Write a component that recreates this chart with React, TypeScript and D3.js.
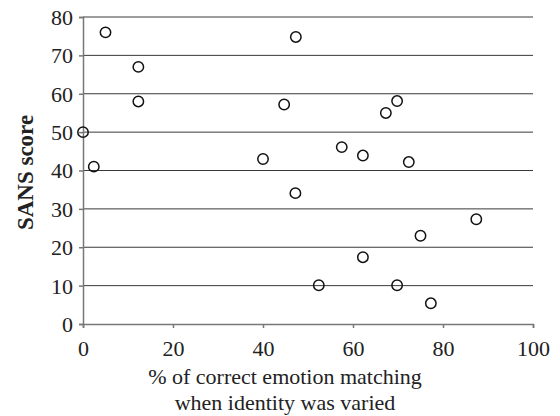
import React, { useEffect, useRef } from 'react';
import * as d3 from 'd3';

// % correct emotion matching (identity varied) vs SANS score
const matchPct = [5, 12.3, 12.3, 0, 2.4, 47.3, 44.7, 40, 47.2, 57.5, 62.2, 67.3, 69.8, 72.4, 87.4, 75, 62.2, 52.4, 69.8, 77.3];
const sansScore = [76, 67, 58, 50, 41, 74.8, 57.2, 43, 34.1, 46.1, 43.9, 55, 58.1, 42.2, 27.3, 23, 17.4, 10.1, 10.1, 5.4];
const xTicks = [0, 20, 40, 60, 80, 100];
const yTicks = [0, 10, 20, 30, 40, 50, 60, 70, 80];

const App = () => {
  const svgRef = useRef<SVGSVGElement>(null);

  useEffect(() => {
    const width = 560;
    const height = 416;
    const margin = { top: 17, right: 27, bottom: 92, left: 83 };

    const svg = d3.select(svgRef.current);
    svg.selectAll('*').remove();

    const x = d3.scaleLinear().domain([0, 100]).range([margin.left, width - margin.right]);
    const y = d3.scaleLinear().domain([0, 80]).range([height - margin.bottom, margin.top]);

    const font = '"Liberation Serif", "Times New Roman", serif';

    // horizontal grid lines
    svg.append('g')
      .selectAll('line')
      .data(yTicks.filter(t => t > 0))
      .enter()
      .append('line')
      .attr('x1', x(0))
      .attr('x2', x(100))
      .attr('y1', d => y(d))
      .attr('y2', d => y(d))
      .attr('stroke', '#3a3a3a')
      .attr('stroke-width', 1);

    // y axis
    const yAxis = svg.append('g')
      .attr('transform', `translate(${x(0)},0)`)
      .call(d3.axisLeft(y).tickValues(yTicks).tickSize(4).tickPadding(6).tickFormat(d3.format('d')));
    yAxis.select('.domain').attr('stroke', '#777').attr('stroke-width', 1.5);
    yAxis.selectAll('.tick line').attr('stroke', '#777').attr('stroke-width', 1.5);
    yAxis.selectAll('text')
      .attr('fill', '#222')
      .attr('dy', '0.34em')
      .style('font-family', font)
      .style('font-size', '22px');

    // x axis
    const xAxis = svg.append('g')
      .attr('transform', `translate(0,${y(0)})`)
      .call(d3.axisBottom(x).tickValues(xTicks).tickSize(4).tickPadding(4).tickFormat(d3.format('d')));
    xAxis.select('.domain').attr('stroke', '#777').attr('stroke-width', 1.5);
    xAxis.selectAll('.tick line').attr('stroke', '#777').attr('stroke-width', 1.5);
    xAxis.selectAll('text')
      .attr('fill', '#222')
      .attr('y', 32)
      .attr('dy', 0)
      .style('font-family', font)
      .style('font-size', '22px');

    // points
    svg.append('g')
      .selectAll('circle')
      .data(matchPct.map((m, i) => ({ m, s: sansScore[i] })))
      .enter()
      .append('circle')
      .attr('cx', d => x(d.m))
      .attr('cy', d => y(d.s))
      .attr('r', 5.2)
      .attr('fill', 'none')
      .attr('stroke', '#111')
      .attr('stroke-width', 1.5);

    // x label
    const xl = svg.append('text')
      .attr('text-anchor', 'middle')
      .attr('fill', '#222')
      .style('font-family', font)
      .style('font-size', '22px');
    xl.append('tspan').attr('x', 285).attr('y', 384).text('% of correct emotion matching');
    xl.append('tspan').attr('x', 285).attr('y', 410).text('when identity was varied');

    // y label
    svg.append('text')
      .attr('transform', `translate(33,${(y(0) + y(80)) / 2 + 2}) rotate(-90)`)
      .attr('text-anchor', 'middle')
      .attr('fill', '#222')
      .style('font-family', font)
      .style('font-size', '23px')
      .style('font-weight', 'bold')
      .text('SANS score');
  }, []);

  return (
    <svg ref={svgRef} width={560} height={416} style={{ position: 'absolute', left: 0, top: 0, background: '#fff' }} />
  );
};

export default App;
